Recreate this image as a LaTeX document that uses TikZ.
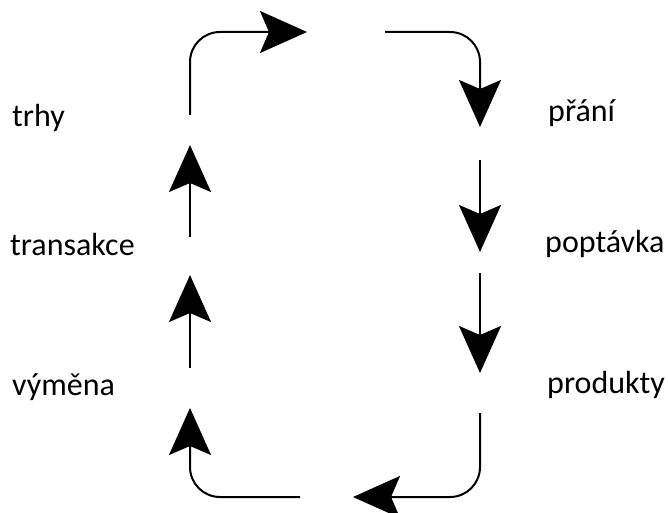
\documentclass[tikz,border=0pt]{standalone}
\usepackage{fontspec}
\setmainfont{Carlito}
\usetikzlibrary{arrows.meta}
\begin{document}
\begin{tikzpicture}[x=1pt,y=-1pt,
  flow/.style={line width=2pt,rounded corners=30pt,
    -{Stealth[length=47pt,width=42pt,inset=9pt]}},
  lbl/.style={anchor=base west,inner sep=0pt,font=\fontsize{32}{36}\selectfont}]
\useasboundingbox (0,0) rectangle (668,513);

% cycle of arrows
\coordinate (a1) at (190,115); \coordinate (b1) at (307,32);
\coordinate (a2) at (385,32);  \coordinate (b2) at (480,127);
\coordinate (a3) at (480,160); \coordinate (b3) at (480,252);
\coordinate (a4) at (480,273); \coordinate (b4) at (480,373);
\coordinate (a5) at (480,413); \coordinate (b5) at (353,497);
\coordinate (a6) at (300,497); \coordinate (b6) at (190,408);
\coordinate (a7) at (190,368); \coordinate (b7) at (190,275);
\coordinate (a8) at (190,237); \coordinate (b8) at (190,145);

\draw[flow] (a1) |- (b1);
\draw[flow] (a2) -| (b2);
\draw[flow] (a3) -- (b3);
\draw[flow] (a4) -- (b4);
\draw[flow] (a5) |- (b5);
\draw[flow] (a6) -| (b6);
\draw[flow] (a7) -- (b7);
\draw[flow] (a8) -- (b8);

% labels
\node[lbl] (trhy) at (12,127) {trhy};
\node[lbl] (transakce) at (10,255) {transakce};
\node[lbl] (vymena) at (12,395) {výměna};
\node[lbl] (prani) at (548,122) {přání};
\node[lbl] (poptavka) at (545,252) {poptávka};
\node[lbl] (produkty) at (547,393) {produkty};
\end{tikzpicture}
\end{document}
